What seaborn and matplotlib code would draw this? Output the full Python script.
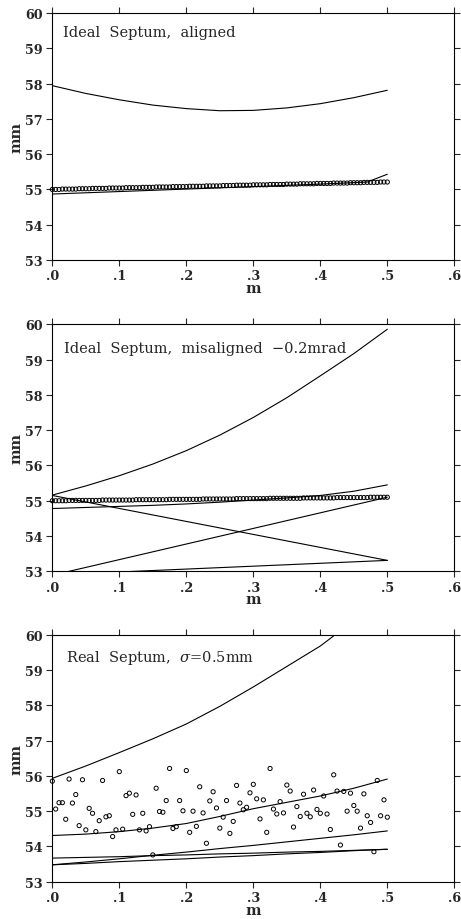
import matplotlib
matplotlib.use("Agg")
import matplotlib.pyplot as plt
import seaborn as sns
import numpy as np
import pandas as pd

# ---- data ----
# sample positions of the circles (m), one every 5 mm
x_pts = [0.000, 0.005, 0.010, 0.015, 0.020, 0.025, 0.030, 0.035, 0.040, 0.045,
         0.050, 0.055, 0.060, 0.065, 0.070, 0.075, 0.080, 0.085, 0.090, 0.095,
         0.100, 0.105, 0.110, 0.115, 0.120, 0.125, 0.130, 0.135, 0.140, 0.145,
         0.150, 0.155, 0.160, 0.165, 0.170, 0.175, 0.180, 0.185, 0.190, 0.195,
         0.200, 0.205, 0.210, 0.215, 0.220, 0.225, 0.230, 0.235, 0.240, 0.245,
         0.250, 0.255, 0.260, 0.265, 0.270, 0.275, 0.280, 0.285, 0.290, 0.295,
         0.300, 0.305, 0.310, 0.315, 0.320, 0.325, 0.330, 0.335, 0.340, 0.345,
         0.350, 0.355, 0.360, 0.365, 0.370, 0.375, 0.380, 0.385, 0.390, 0.395,
         0.400, 0.405, 0.410, 0.415, 0.420, 0.425, 0.430, 0.435, 0.440, 0.445,
         0.450, 0.455, 0.460, 0.465, 0.470, 0.475, 0.480, 0.485, 0.490, 0.495,
         0.500]

pts_aligned = [55.00, 55.00, 55.00, 55.01, 55.01, 55.01, 55.01, 55.01, 55.02, 55.02,
               55.02, 55.02, 55.03, 55.03, 55.03, 55.03, 55.03, 55.04, 55.04, 55.04,
               55.04, 55.04, 55.05, 55.05, 55.05, 55.05, 55.05, 55.06, 55.06, 55.06,
               55.06, 55.07, 55.07, 55.07, 55.07, 55.07, 55.08, 55.08, 55.08, 55.08,
               55.08, 55.09, 55.09, 55.09, 55.09, 55.09, 55.10, 55.10, 55.10, 55.10,
               55.10, 55.11, 55.11, 55.11, 55.11, 55.12, 55.12, 55.12, 55.12, 55.12,
               55.13, 55.13, 55.13, 55.13, 55.13, 55.14, 55.14, 55.14, 55.14, 55.14,
               55.15, 55.15, 55.15, 55.15, 55.16, 55.16, 55.16, 55.16, 55.16, 55.17,
               55.17, 55.17, 55.17, 55.17, 55.18, 55.18, 55.18, 55.18, 55.18, 55.19,
               55.19, 55.19, 55.19, 55.20, 55.20, 55.20, 55.20, 55.20, 55.21, 55.21,
               55.21]

pts_misaligned = [55.00, 55.00, 55.00, 55.00, 55.00, 55.01, 55.01, 55.01, 55.01, 55.01,
                  55.01, 55.01, 55.01, 55.01, 55.01, 55.02, 55.02, 55.02, 55.02, 55.02,
                  55.02, 55.02, 55.02, 55.02, 55.02, 55.03, 55.03, 55.03, 55.03, 55.03,
                  55.03, 55.03, 55.03, 55.03, 55.03, 55.04, 55.04, 55.04, 55.04, 55.04,
                  55.04, 55.04, 55.04, 55.04, 55.04, 55.05, 55.05, 55.05, 55.05, 55.05,
                  55.05, 55.05, 55.05, 55.05, 55.05, 55.06, 55.06, 55.06, 55.06, 55.06,
                  55.06, 55.06, 55.06, 55.06, 55.06, 55.07, 55.07, 55.07, 55.07, 55.07,
                  55.07, 55.07, 55.07, 55.07, 55.07, 55.08, 55.08, 55.08, 55.08, 55.08,
                  55.08, 55.08, 55.08, 55.08, 55.08, 55.09, 55.09, 55.09, 55.09, 55.09,
                  55.09, 55.09, 55.09, 55.09, 55.09, 55.10, 55.10, 55.10, 55.10, 55.10,
                  55.10]

pts_real = [55.85, 55.06, 55.24, 55.24, 54.77, 55.91, 55.23, 55.47, 54.59, 55.89,
            54.47, 55.08, 54.94, 54.42, 54.73, 55.87, 54.84, 54.87, 54.28, 54.47,
            56.12, 54.49, 55.44, 55.51, 54.91, 55.46, 54.47, 54.94, 54.44, 54.56,
            53.76, 55.65, 54.99, 54.97, 55.30, 56.21, 54.51, 54.56, 55.30, 55.01,
            56.15, 54.40, 55.00, 54.57, 55.69, 54.95, 54.09, 55.29, 55.55, 55.09,
            54.52, 54.83, 55.30, 54.37, 54.71, 55.73, 55.23, 55.04, 55.11, 55.52,
            55.76, 55.35, 54.78, 55.32, 54.40, 56.21, 55.06, 54.92, 55.27, 54.95,
            55.74, 55.57, 54.55, 55.13, 54.85, 55.48, 54.94, 54.84, 55.60, 55.05,
            54.94, 55.43, 54.92, 54.48, 56.03, 55.57, 54.04, 55.56, 55.00, 55.51,
            55.16, 55.00, 54.52, 55.49, 54.87, 54.68, 53.85, 55.87, 54.87, 55.32,
            54.83]

# envelope curves, sampled every 5 cm
x_curve = [0.00, 0.05, 0.10, 0.15, 0.20, 0.25, 0.30, 0.35, 0.40, 0.45, 0.50]

aligned_upper = [57.94, 57.72, 57.54, 57.39, 57.29, 57.23, 57.24, 57.31, 57.43, 57.60, 57.81]
aligned_lower_x = [0.00, 0.10, 0.20, 0.30, 0.40, 0.47, 0.50]
aligned_lower = [54.87, 54.94, 55.01, 55.08, 55.15, 55.21, 55.43]

mis_upper = [55.16, 55.42, 55.71, 56.04, 56.42, 56.86, 57.36, 57.92, 58.54, 59.17, 59.86]
mis_inner = [54.78, 54.81, 54.84, 54.87, 54.91, 54.96, 55.02, 55.08, 55.15, 55.27, 55.45]
mis_lines_x = [0.00, 0.50]
mis_falling = [55.15, 53.31]
mis_rising = [52.89, 55.10]
mis_bottom = [52.90, 53.31]

real_upper = [55.93, 56.28, 56.66, 57.05, 57.47, 57.97, 58.52, 59.10, 59.68, 60.40, 61.10]
real_inner = [54.31, 54.35, 54.42, 54.52, 54.65, 54.85, 55.07, 55.25, 55.43, 55.65, 55.91]
real_low1 = [53.48, 53.56, 53.65, 53.75, 53.84, 53.94, 54.03, 54.13, 54.23, 54.33, 54.44]
real_low2 = [53.67, 53.69, 53.71, 53.74, 53.76, 53.79, 53.81, 53.84, 53.86, 53.89, 53.92]
real_low3 = [53.48, 53.52, 53.57, 53.61, 53.65, 53.70, 53.74, 53.79, 53.83, 53.88, 53.92]

x_ticks = [0.0, 0.1, 0.2, 0.3, 0.4, 0.5, 0.6]
x_ticklabels = [".0", ".1", ".2", ".3", ".4", ".5", ".6"]
y_ticks = [53, 54, 55, 56, 57, 58, 59, 60]

titles = ["Ideal  Septum,  aligned",
          "Ideal  Septum,  misaligned  \u22120.2mrad",
          "Real  Septum,  $\\sigma$=0.5mm"]

# ---- figure ----
sns.set_style("ticks")
plt.rcParams["font.family"] = ["DejaVu Serif"]
plt.rcParams["mathtext.fontset"] = "dejavuserif"

fig = plt.figure(figsize=(4.61, 9.2), dpi=100)
left, width, height = 0.1135, 0.872, 0.2685
bottoms = [0.7163, 0.3779, 0.0405]
axes = [fig.add_axes([left, b, width, height]) for b in bottoms]

line_kw = dict(color="black", linewidth=0.8, estimator=None, sort=False, legend=False)
pt_kw = dict(s=9, marker="o", facecolor="none", edgecolor="black", linewidth=0.7,
             legend=False, clip_on=False, zorder=3)


def draw_curves(ax, curves):
    for xs, ys in curves:
        sns.lineplot(x=xs, y=ys, ax=ax, **line_kw)


# aligned
ax = axes[0]
draw_curves(ax, [(x_curve, aligned_upper), (aligned_lower_x, aligned_lower)])
sns.scatterplot(x=x_pts, y=pts_aligned, ax=ax, **pt_kw)

# misaligned
ax = axes[1]
draw_curves(ax, [(x_curve, mis_upper), (x_curve, mis_inner),
                 (mis_lines_x, mis_falling), (mis_lines_x, mis_rising),
                 (mis_lines_x, mis_bottom)])
sns.scatterplot(x=x_pts, y=pts_misaligned, ax=ax, **pt_kw)

# real septum
ax = axes[2]
draw_curves(ax, [(x_curve, real_upper), (x_curve, real_inner), (x_curve, real_low1),
                 (x_curve, real_low2), (x_curve, real_low3)])
sns.scatterplot(x=x_pts, y=pts_real, ax=ax, **pt_kw)

text_pos = [(0.026, 0.922), (0.030, 0.906), (0.034, 0.910)]
for ax, title, (tx, ty) in zip(axes, titles, text_pos):
    ax.set_xlim(0, 0.6)
    ax.set_ylim(53, 60)
    ax.set_xticks(x_ticks)
    ax.set_xticklabels(x_ticklabels)
    ax.set_yticks(y_ticks)
    ax.tick_params(axis="both", which="both", direction="out", length=4.2, width=0.8,
                   labelsize=9.2, pad=2.6, top=True, right=True,
                   labeltop=False, labelright=False)
    for lab in ax.get_xticklabels() + ax.get_yticklabels():
        lab.set_fontweight("bold")
    for sp in ax.spines.values():
        sp.set_visible(True)
        sp.set_linewidth(0.8)
        sp.set_color("black")
    ax.set_xlabel("m", fontsize=10.5, fontweight="bold", labelpad=-1)
    ax.set_ylabel("mm", fontsize=10.5, fontweight="bold", labelpad=1)
    ax.text(tx, ty, title, transform=ax.transAxes, fontsize=10.5,
            ha="left", va="center")

fig.savefig("out.png", dpi=100, facecolor="white")
